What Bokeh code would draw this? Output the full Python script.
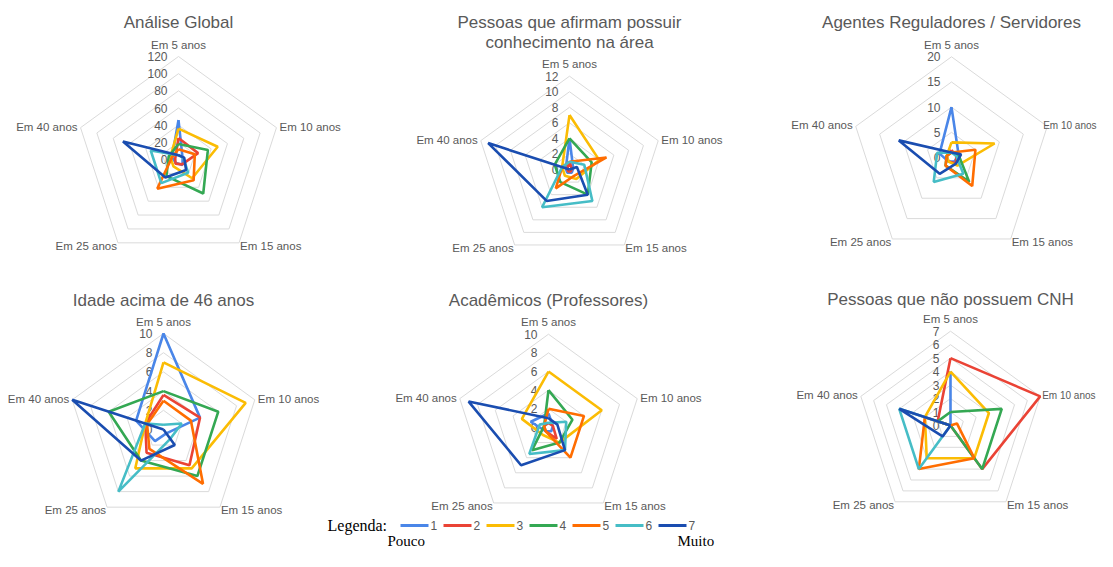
import math
from bokeh.plotting import figure
from bokeh.models import Range1d
from bokeh.core.properties import value
from bokeh.embed import file_html
from bokeh.resources import INLINE

# ---------------- data ----------------
categories = ["Em 5 anos", "Em 10 anos", "Em 15 anos", "Em 25 anos", "Em 40 anos"]
series_names = ["1", "2", "3", "4", "5", "6", "7"]
colors = ["#4A86E8", "#EA4335", "#FBBC04", "#34A853", "#FF6D01", "#46BDC6", "#1A4DB0"]

titles = [
    ["Análise Global"],
    ["Pessoas que afirmam possuir", "conhecimento na área"],
    ["Agentes Reguladores / Servidores"],
    ["Idade acima de 46 anos"],
    ["Acadêmicos (Professores)"],
    ["Pessoas que não possuem CNH"],
]
axis_max = [120, 12, 20, 10, 10, 7]
axis_step = [20, 2, 5, 2, 2, 1]

# values per series (order of categories), series 1..7
global_vals = [
    [46, 5, 8, 5, 8],
    [25, 24, 7, 6, 4],
    [36, 48, 27, 10, 10],
    [18, 36, 49, 24, 12],
    [12, 20, 30, 42, 8],
    [5, 6, 19, 34, 34],
    [5, 7, 15, 26, 68],
]
conhecimento_vals = [
    [4, 0.5, 0.5, 0.5, 0.5],
    [1, 0.3, 0.3, 0.3, 0.3],
    [7, 4, 1.5, 1, 1],
    [4, 3, 4, 2, 2],
    [1, 5, 1, 3, 1],
    [1, 2, 5, 6, 1],
    [0, 1, 4, 5, 11],
]
reguladores_vals = [
    [10, 1.5, 1, 1, 2.5],
    [1.5, 1, 1.5, 1, 1],
    [3, 9, 2, 1, 1],
    [1, 1.5, 6, 2, 1],
    [1, 5, 7, 2, 1],
    [1, 1, 4, 6, 3],
    [1, 2, 1.5, 4, 11],
]
idade_vals = [
    [10, 4, 0.5, 1.5, 3],
    [3.6, 4, 4.6, 3, 2],
    [7, 9, 5, 5, 2],
    [4, 6, 6, 4, 6],
    [3, 3, 7, 2.5, 1.8],
    [0.5, 2, 1.2, 8, 2],
    [0, 0, 2, 4, 10],
]
academicos_vals = [
    [1.5, 0.5, 0.5, 0.5, 2],
    [0.5, 0.5, 1.5, 0.5, 0.5],
    [6, 6, 2, 1, 3],
    [4, 2.7, 2, 3, 0.5],
    [2, 4, 4, 0.5, 0.5],
    [0.5, 2, 3, 3.5, 1],
    [1, 1, 3, 5, 9],
]
cnh_vals = [
    [4, 0, 0, 0, 0],
    [5, 7, 4, 0, 1],
    [4, 3, 3, 3, 2],
    [1, 4, 4, 0, 1],
    [0, 0.5, 3, 4, 2],
    [0, 0, 0, 4, 4],
    [0, 0, 0, 1, 4],
]
panel_vals = [global_vals, conhecimento_vals, reguladores_vals,
              idade_vals, academicos_vals, cnh_vals]

# ---------------- layout (page pixel geometry) ----------------
centers = [(178, 159), (569, 169), (951, 157), (163, 429), (548, 427), (950, 425)]
radii = [103, 93.3, 100.7, 96, 93.3, 94.3]
title_y = [22, 22, 22, 300, 300, 299]

GRAY = "#595959"
FONT = value("Liberation Sans")
SERIF = value("Liberation Serif")
W, H = 1097, 551

p = figure(width=W, height=H, x_range=Range1d(0, W), y_range=Range1d(-H, 0),
           output_backend="svg", toolbar_location=None, min_border=0)
p.axis.visible = False
p.grid.visible = False
p.outline_line_color = None
p.background_fill_color = "white"

n = len(categories)
angles = [math.pi / 2 - 2 * math.pi * k / n for k in range(n)]


def pt(c, r, a):
    return c[0] + r * math.cos(a), -(c[1] - r * math.sin(a))


for i in range(6):
    c = centers[i]
    R = radii[i]
    mx = axis_max[i]
    st = axis_step[i]
    # grid rings
    nr = int(round(mx / st))
    for j in range(1, nr + 1):
        r = R * j * st / mx
        pts = [pt(c, r, a) for a in angles] + [pt(c, r, angles[0])]
        p.line([q[0] for q in pts], [q[1] for q in pts], line_color="#dadada", line_width=1)
    # tick labels
    tx, ty = [], []
    tl = []
    for j in range(0, nr + 1):
        v = j * st
        tx.append(c[0] - 11)
        ty.append(-(c[1] - R * v / mx))
        tl.append(str(v))
    p.text(tx, ty, text=tl, text_align="right", text_baseline="middle",
           text_font=FONT, text_font_size="12px", text_color=GRAY)
    # series
    for s in range(7):
        vals = panel_vals[i][s]
        pts = [pt(c, R * vals[k] / mx, angles[k]) for k in range(n)]
        pts.append(pts[0])
        p.line([q[0] for q in pts], [q[1] for q in pts], line_color=colors[s], line_width=2.6)
    # category labels
    verts = [pt(c, R, a) for a in angles]
    lx = [verts[0][0], verts[1][0] + 3, verts[2][0] + 1, verts[3][0] - 1, verts[4][0] - 3]
    ly = [verts[0][1] + 12, verts[1][1] + 1, verts[2][1] - 3, verts[3][1] - 3, verts[4][1] + 1]
    aligns = ["center", "left", "left", "right", "right"]
    sizes = ["11.5px"] * 5
    if lx[1] + 61 > W:
        sizes[1] = "10px"
        lx[1] = verts[1][0] + 2
        if lx[1] + 53 > W:
            lx[1] = W - 1
            aligns[1] = "right"
    for k in range(n):
        p.text([lx[k]], [ly[k]], text=[categories[k]], text_align=aligns[k],
               text_baseline="middle", text_font=FONT, text_font_size=sizes[k],
               text_color=GRAY)
    # title
    for li, line in enumerate(titles[i]):
        p.text([c[0]], [-(title_y[i] + 20 * li)], text=[line], text_align="center",
               text_baseline="middle", text_font=FONT, text_font_size="17px",
               text_color=GRAY)

# ---------------- legend ----------------
leg_y = -525
p.text([327], [leg_y], text=["Legenda:"], text_align="left", text_baseline="middle",
       text_font=SERIF, text_font_size="16px", text_color="black")
for s in range(7):
    x0 = 400 + 43 * s
    p.line([x0, x0 + 28], [leg_y, leg_y], line_color=colors[s], line_width=3)
    p.text([x0 + 30], [leg_y], text=[series_names[s]], text_align="left",
           text_baseline="middle", text_font=FONT, text_font_size="12px", text_color=GRAY)
p.text([387], [-540], text=["Pouco"], text_align="left", text_baseline="middle",
       text_font=SERIF, text_font_size="15px", text_color="black")
p.text([677], [-540], text=["Muito"], text_align="left", text_baseline="middle",
       text_font=SERIF, text_font_size="15px", text_color="black")

open("out.html", "w").write(file_html(p, INLINE))
